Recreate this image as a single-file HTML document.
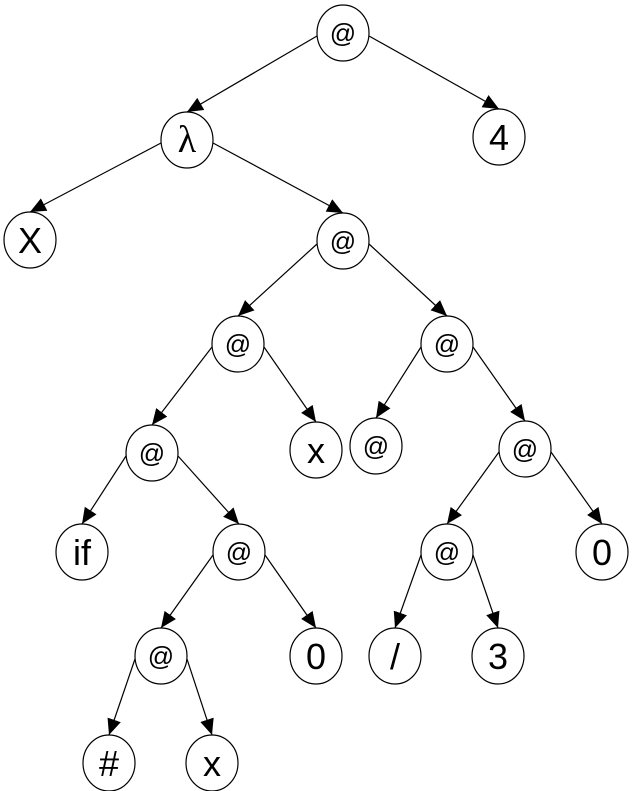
<!DOCTYPE html>
<html><head><style>html,body{margin:0;padding:0;background:#fff}svg{display:block}</style></head>
<body>
<svg width="632" height="791" viewBox="0 0 632 791" xmlns="http://www.w3.org/2000/svg">
<defs><marker id="a" markerUnits="userSpaceOnUse" markerWidth="17" markerHeight="15" refX="16" refY="7" orient="auto"><path d="M0,0 L16,7 L0,14 z" fill="#000"/></marker></defs>
<g stroke="#000" stroke-width="1.2" marker-end="url(#a)">
<line x1="317" y1="36" x2="187" y2="112"/>
<line x1="369" y1="36" x2="499" y2="109"/>
<line x1="161" y1="143" x2="30" y2="212"/>
<line x1="213" y1="143" x2="343" y2="213"/>
<line x1="317" y1="244" x2="238" y2="316"/>
<line x1="369" y1="244" x2="447" y2="316"/>
<line x1="212" y1="347" x2="152" y2="425"/>
<line x1="264" y1="347" x2="316" y2="422"/>
<line x1="421" y1="347" x2="376" y2="418"/>
<line x1="473" y1="347" x2="525" y2="421"/>
<line x1="126" y1="456" x2="82" y2="524"/>
<line x1="178" y1="456" x2="239" y2="524"/>
<line x1="213" y1="555" x2="161" y2="628"/>
<line x1="265" y1="555" x2="316" y2="628"/>
<line x1="499" y1="452" x2="447" y2="524"/>
<line x1="551" y1="452" x2="602" y2="524"/>
<line x1="421" y1="555" x2="395" y2="628"/>
<line x1="473" y1="555" x2="498" y2="628"/>
<line x1="135" y1="659" x2="109" y2="735"/>
<line x1="187" y1="659" x2="212" y2="735"/>
</g>
<g fill="#fff" stroke="#000" stroke-width="1.2">
<ellipse cx="343" cy="33" rx="26" ry="28"/>
<ellipse cx="187" cy="140" rx="26" ry="28"/>
<ellipse cx="499" cy="137" rx="26" ry="28"/>
<ellipse cx="30" cy="240" rx="26" ry="28"/>
<ellipse cx="343" cy="241" rx="26" ry="28"/>
<ellipse cx="238" cy="344" rx="26" ry="28"/>
<ellipse cx="447" cy="344" rx="26" ry="28"/>
<ellipse cx="152" cy="453" rx="26" ry="28"/>
<ellipse cx="316" cy="450" rx="26" ry="28"/>
<ellipse cx="376" cy="446" rx="26" ry="28"/>
<ellipse cx="525" cy="449" rx="26" ry="28"/>
<ellipse cx="82" cy="552" rx="26" ry="28"/>
<ellipse cx="239" cy="552" rx="26" ry="28"/>
<ellipse cx="602" cy="552" rx="26" ry="28"/>
<ellipse cx="447" cy="552" rx="26" ry="28"/>
<ellipse cx="161" cy="656" rx="26" ry="28"/>
<ellipse cx="316" cy="656" rx="26" ry="28"/>
<ellipse cx="395" cy="656" rx="26" ry="28"/>
<ellipse cx="498" cy="656" rx="26" ry="28"/>
<ellipse cx="109" cy="763" rx="26" ry="28"/>
<ellipse cx="212" cy="763" rx="26" ry="28"/>
</g>
<g font-family="Liberation Sans, sans-serif" text-anchor="middle" fill="#000">
<g font-size="26">
<text x="343" y="42">@</text>
<text x="343" y="250">@</text>
<text x="238" y="353">@</text>
<text x="447" y="353">@</text>
<text x="152" y="462">@</text>
<text x="376" y="455">@</text>
<text x="525" y="458">@</text>
<text x="239" y="561">@</text>
<text x="447" y="561">@</text>
<text x="161" y="665">@</text>
</g>
<text x="187" y="152" font-size="38" font-family="Liberation Serif, serif">λ</text>
<g font-size="36">
<text x="499" y="150">4</text>
<text x="30" y="253">X</text>
<text x="316" y="463">x</text>
<text x="82" y="565">if</text>
<text x="602" y="565">0</text>
<text x="316" y="669">0</text>
<text x="395" y="669">/</text>
<text x="498" y="669">3</text>
<text x="109" y="776">#</text>
<text x="212" y="776">x</text>
</g>
</g>
</svg>
</body></html>
